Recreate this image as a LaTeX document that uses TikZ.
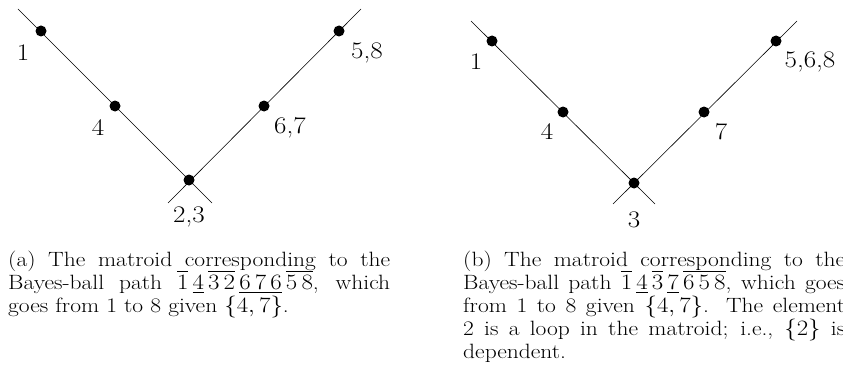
\documentclass[tikz,border=0pt]{standalone}
\usepackage{amsmath}
\usepackage{graphicx}
\newcommand{\sq}[1]{\scalebox{1}[0.88]{#1}}
\begin{document}
\begin{tikzpicture}[x=1pt,y=-1pt,
  edge/.style={line width=0.6pt},
  dot/.style={circle,fill=black,inner sep=0pt,minimum size=11pt},
  lbl/.style={inner sep=0pt,font=\fontsize{27}{30}\selectfont},
  captxt/.style={inner sep=0pt,anchor=base west,font=\fontsize{23.5}{26}\selectfont}]
\useasboundingbox (0,0) rectangle (843,369);
% (a)
\coordinate (aTL) at (18,9);
\coordinate (aTR) at (361,9);
\coordinate (aBL) at (168,203);
\coordinate (aBR) at (212,203);
\node[dot] (a1) at (41,31) {};
\node[dot] (a4) at (115,106) {};
\node[dot] (a23) at (189,180) {};
\node[dot] (a67) at (264,106) {};
\node[dot] (a58) at (339,31) {};
\draw[edge] (aTL) -- (aBR);
\draw[edge] (aTR) -- (aBL);
\node[lbl] (la1) at (23,53) {\sq{1}};
\node[lbl] (la4) at (98,128) {\sq{4}};
\node[lbl] (la23) at (189,217) {\sq{2,3}};
\node[lbl] (la67) at (290,128) {\sq{6,7}};
\node[lbl] (la58) at (367,53) {\sq{5,8}};
% (b)
\coordinate (bTL) at (471,21);
\coordinate (bTR) at (797,21);
\coordinate (bBL) at (613,204);
\coordinate (bBR) at (655,204);
\node[dot] (b1) at (492,41) {};
\node[dot] (b4) at (563,112) {};
\node[dot] (b3) at (634,183) {};
\node[dot] (b7) at (704,112) {};
\node[dot] (b568) at (776,41) {};
\draw[edge] (bTL) -- (bBR);
\draw[edge] (bTR) -- (bBL);
\node[lbl] (lb1) at (476,62) {\sq{1}};
\node[lbl] (lb4) at (547,132) {\sq{4}};
\node[lbl] (lb3) at (634,220) {\sq{3}};
\node[lbl] (lb7) at (721,132) {\sq{7}};
\node[lbl] (lb568) at (810,62) {\sq{5,6,8}};
% captions
\node[captxt] (ca1) at (8,266) {\sq{\makebox[382pt][s]{(a) The matroid corresponding to the}}};
\node[captxt] (ca2) at (8,289) {\sq{\makebox[382pt][s]{Bayes-ball path $\overline{1}\,\underline{4}\,\overline{3\,2}\,\underline{6\,7\,6}\,\overline{5\,8}$, which}}};
\node[captxt] (ca3) at (8,312) {\sq{goes from 1 to 8 given $\{4,7\}$.}};
\node[captxt] (cb1) at (463,266) {\sq{\makebox[382pt][s]{(b) The matroid corresponding to the}}};
\node[captxt] (cb2) at (463,289) {\sq{\makebox[382pt][s]{Bayes-ball path $\overline{1}\,\underline{4}\,\overline{3}\,\underline{7}\,\overline{6\,5\,8}$, which goes}}};
\node[captxt] (cb3) at (463,312) {\sq{\makebox[382pt][s]{from 1 to 8 given $\{4,7\}$. The element}}};
\node[captxt] (cb4) at (463,335) {\sq{\makebox[382pt][s]{2 is a loop in the matroid; i.e., $\{2\}$ is}}};
\node[captxt] (cb5) at (463,358) {\sq{dependent.}};
\end{tikzpicture}
\end{document}
